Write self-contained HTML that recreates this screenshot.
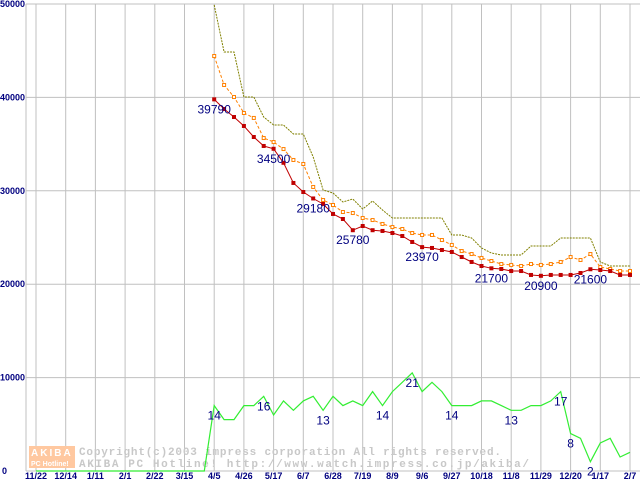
<!DOCTYPE html>
<html><head><meta charset="utf-8"><style>
body{margin:0;background:#fff;}
svg{display:block;}
</style></head><body>
<svg id="chart" width="640" height="480" viewBox="0 0 640 480" xmlns="http://www.w3.org/2000/svg" font-family="Liberation Sans, sans-serif">
<g id="grid"></g>
<g id="watermark">
  <rect x="29" y="446" width="46" height="22" fill="#ffc8a0"/>
  <text x="31" y="456" font-size="10" font-weight="bold" fill="#fff" letter-spacing="2">AKIBA</text>
  <text x="31" y="466" font-size="7" font-weight="bold" fill="#fff">PC Hotline!</text>
  <text x="79" y="455" font-family="Liberation Mono, monospace" font-size="11" font-weight="bold" fill="#c8c8c8" textLength="422">Copyright(c)2003 impress corporation All rights reserved.</text>
  <text x="79" y="467" font-family="Liberation Mono, monospace" font-size="11" font-weight="bold" fill="#c8c8c8" textLength="450">AKIBA PC Hotline! http://www.watch.impress.co.jp/akiba/</text>
</g>
<g id="series"></g>
<g id="labels"></g>
</svg>
<script>
const xTickLabels = ["11/22","12/14","1/11","2/1","2/22","3/15","4/5","4/26","5/17","6/7","6/28","7/19","8/9","9/6","9/27","10/18","11/8","11/29","12/20","1/17","2/7"];
const yTickValues = [0,10000,20000,30000,40000,50000];
const startIndex = 18;
const minPrice = [39790,38760,37900,36940,35760,34800,34500,33000,30840,29870,29180,28590,27520,26980,25780,26230,25780,25700,25480,25160,24520,23970,23880,23660,23450,22910,22380,21950,21700,21630,21410,21410,20990,20900,20990,20990,20990,21200,21600,21520,21410,20990,20990];
const avgPrice = [44430,41330,40040,38330,37800,35650,35220,34470,33300,32870,30410,29010,28480,27730,27620,27090,26870,26450,26120,25910,25480,25270,25270,24730,24200,23550,23230,22810,22480,22160,22060,21950,22160,22060,22160,22380,22910,22590,23230,21840,21630,21410,21410];
const maxPrice = [49890,44860,44860,40040,40040,37900,37040,37040,36080,36080,33620,30090,29760,28800,29120,28050,28910,27940,27090,27090,27090,27090,27090,27090,25270,25270,24950,23880,23340,23130,23130,23130,24090,24090,24090,24950,24950,24950,24950,22380,21950,21950,21950];
const shopCount = [14,11,11,14,14,16,12,15,13,15,16,13,16,14,15,14,17,14,17,19,21,17,19,17,14,14,14,15,15,14,13,13,14,14,15,17,8,7,2,6,7,3,4];
const minLabelIdx = [0,6,10,14,21,28,33,38];
const shopLabelIdx = [0,5,11,17,20,24,30,35,36,38];

const NS="http://www.w3.org/2000/svg";
const X0=36, X1=630, NWEEKS=60, Y0=471, YTOP=4, YMAX=50000;
const xs=i=>X0+i*(X1-X0)/NWEEKS;
const ys=v=>Y0-v*(Y0-YTOP)/YMAX;
const shopY=c=>ys(c*500);
function mk(tag,attrs,parent){const e=document.createElementNS(NS,tag);for(const k in attrs)e.setAttribute(k,attrs[k]);parent.appendChild(e);return e;}
const grid=document.getElementById('grid'), ser=document.getElementById('series'), lab=document.getElementById('labels');

yTickValues.forEach(v=>{
  const l=mk('line',{x1:26,x2:640,y1:ys(v),y2:ys(v),stroke:'#c0c0c0'},grid);
  
  
  const t=mk('text',{x:v===0?7:25,y:ys(v)+3,'text-anchor':'end','font-size':9,'font-weight':'bold',fill:'#000080'},grid);
  t.textContent=String(v);
  
  
});
const ax=mk('line',{x1:26,x2:26,y1:YTOP,y2:Y0,stroke:'#c0c0c0'},grid);


xTickLabels.forEach((s,j)=>{
  const x=xs(j*3);
  const l=mk('line',{x1:x,x2:x,y1:YTOP,y2:Y0,stroke:'#c0c0c0'},grid);
  
  
  const t=mk('text',{x:x,y:479,'text-anchor':'middle','font-size':9,'font-weight':'bold',fill:'#000080'},grid);
  t.textContent=s;
  
  
});

function pts(arr,f){return arr.map((v,k)=>xs(startIndex+k).toFixed(1)+','+f(v).toFixed(1)).join(' ');}
let gp=[];for(let i=0;i<startIndex;i++)gp.push(xs(i).toFixed(1)+','+Y0);
const g=mk('polyline',{points:gp.join(' ')+' '+pts(shopCount,shopY),fill:'none',stroke:'#33ee33','stroke-width':1.2},ser);


const mx=mk('polyline',{points:pts(maxPrice,ys),fill:'none',stroke:'#808000','stroke-width':1,'stroke-dasharray':'2,1'},ser);


const av=mk('polyline',{points:pts(avgPrice,ys),fill:'none',stroke:'#ff8000','stroke-width':1,'stroke-dasharray':'3,2'},ser);


avgPrice.forEach((v,k)=>{
  const r=mk('rect',{x:xs(startIndex+k)-1.5,y:ys(v)-1.5,width:3,height:3,fill:'#fff',stroke:'#ff8000','stroke-width':1},ser);
  
  
});
const mn=mk('polyline',{points:pts(minPrice,ys),fill:'none',stroke:'#c00000','stroke-width':1},ser);


minPrice.forEach((v,k)=>{
  const r=mk('rect',{x:xs(startIndex+k)-2,y:ys(v)-2,width:4,height:4,fill:'#c00000'},ser);
  
  
});
minLabelIdx.forEach(k=>{
  const t=mk('text',{x:xs(startIndex+k),y:ys(minPrice[k])+14,'text-anchor':'middle','font-size':12,fill:'#000080'},lab);
  t.textContent=String(minPrice[k]);
  
  
});
shopLabelIdx.forEach(k=>{
  const t=mk('text',{x:xs(startIndex+k),y:shopY(shopCount[k])+14,'text-anchor':'middle','font-size':12,fill:'#000080'},lab);
  t.textContent=String(shopCount[k]);
  
  
});
</script>
</body></html>
